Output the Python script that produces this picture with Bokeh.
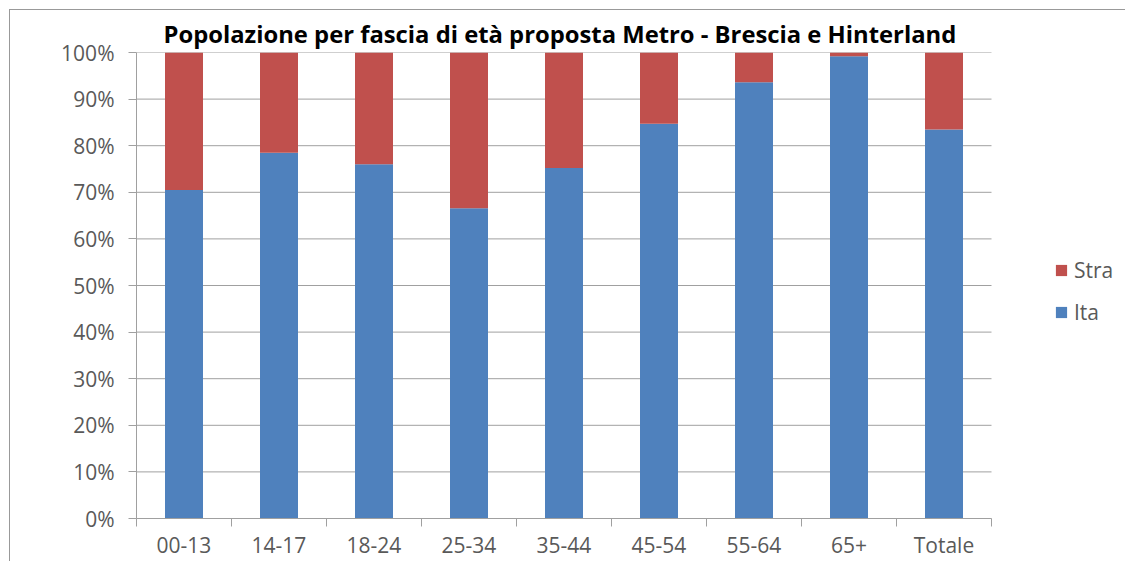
from bokeh.plotting import figure
from bokeh.models import (FixedTicker, NumeralTickFormatter, Range1d, Legend, LegendItem,
                          ColumnDataSource)
from bokeh.embed import file_html
from bokeh.resources import INLINE

categories = ["00-13", "14-17", "18-24", "25-34", "35-44", "45-54", "55-64", "65+", "Totale"]
ita = [0.705, 0.785, 0.760, 0.666, 0.752, 0.847, 0.936, 0.992, 0.835]
stra = [0.295, 0.215, 0.240, 0.334, 0.248, 0.153, 0.064, 0.008, 0.165]
y_ticks = [0.0, 0.1, 0.2, 0.3, 0.4, 0.5, 0.6, 0.7, 0.8, 0.9, 1.0]

BLUE = "#4F81BD"
RED = "#C0504D"
GRID = "#a0a0a0"
TXT = "#595959"
FONT = "Open Sans"

# layout (screen pixels)
FRAME_L, FRAME_R_AXIS, FRAME_R = 136, 991, 1120
W, H = 1125, 561
n = len(categories)
x_end = n * (FRAME_R - FRAME_L) / (FRAME_R_AXIS - FRAME_L)

xpos = [i + 0.5 for i in range(n)]
src = ColumnDataSource(dict(x=xpos, cat=categories, Ita=ita, Stra=stra))

p = figure(width=W, height=H, output_backend="svg", toolbar_location=None,
           x_range=Range1d(0, x_end), y_range=Range1d(0, 1),
           min_border_left=FRAME_L, min_border_right=W - FRAME_R, min_border_top=52, min_border_bottom=42,
           title="Popolazione per fascia di età proposta Metro - Brescia e Hinterland")
p.outline_line_color = None
p.border_fill_alpha = 0
p.background_fill_color = "white"
p.styles = {"background": "linear-gradient(#999999, #999999) 9px 9px / 1px 100% no-repeat, "
                          "linear-gradient(#999999, #999999) 9px 9px / 100% 1px no-repeat, white"}

p.title.align = "left"
p.title.offset = 27
p.title.text_font = FONT
p.title.text_font_size = "23.8px"
p.title.text_font_style = "bold"
p.title.text_color = "#000000"
p.title.standoff = 6

# horizontal gridlines limited to the category area
p.segment(x0=0, x1=n, y0=y_ticks, y1=y_ticks, line_color=GRID, line_width=1)

r = p.vbar_stack(["Ita", "Stra"], x="x", width=0.4, source=src, color=[BLUE, RED], line_color=None)

# axes
p.xaxis.bounds = (0, n)
p.xaxis.ticker = FixedTicker(ticks=xpos, minor_ticks=list(range(n + 1)))
p.xaxis.major_label_overrides = {x: c for x, c in zip(xpos, categories)}
p.xaxis.major_tick_line_color = None
p.xaxis.minor_tick_out = 8
p.xaxis.minor_tick_in = 0
p.xaxis.minor_tick_line_color = GRID
p.xaxis.axis_line_color = GRID
p.xaxis.major_label_text_font = FONT
p.xaxis.major_label_text_font_size = "21px"
p.xaxis.major_label_text_color = TXT
p.xaxis.major_label_standoff = 4

p.yaxis.ticker = FixedTicker(ticks=y_ticks, minor_ticks=[])
p.yaxis.formatter = NumeralTickFormatter(format="0%")
p.yaxis.major_tick_out = 8
p.yaxis.major_tick_in = 0
p.yaxis.major_tick_line_color = GRID
p.yaxis.axis_line_color = GRID
p.yaxis.major_label_text_font = FONT
p.yaxis.major_label_text_font_size = "21px"
p.yaxis.major_label_text_color = TXT
p.yaxis.major_label_standoff = 14

p.xgrid.grid_line_color = None
p.ygrid.grid_line_color = None

legend = Legend(items=[LegendItem(label="Stra", renderers=[r[1]]), LegendItem(label="Ita", renderers=[r[0]])],
                location=(918, 192), orientation="vertical")
legend.glyph_width = 14
legend.glyph_height = 14
legend.label_height = 14
legend.spacing = 14
legend.padding = 0
legend.margin = 0
legend.label_standoff = 6
legend.border_line_color = None
legend.background_fill_alpha = 0
legend.label_text_font = FONT
legend.label_text_font_size = "21px"
legend.label_text_color = TXT
p.add_layout(legend, "center")

open("out.html", "w").write(file_html(p, INLINE))
